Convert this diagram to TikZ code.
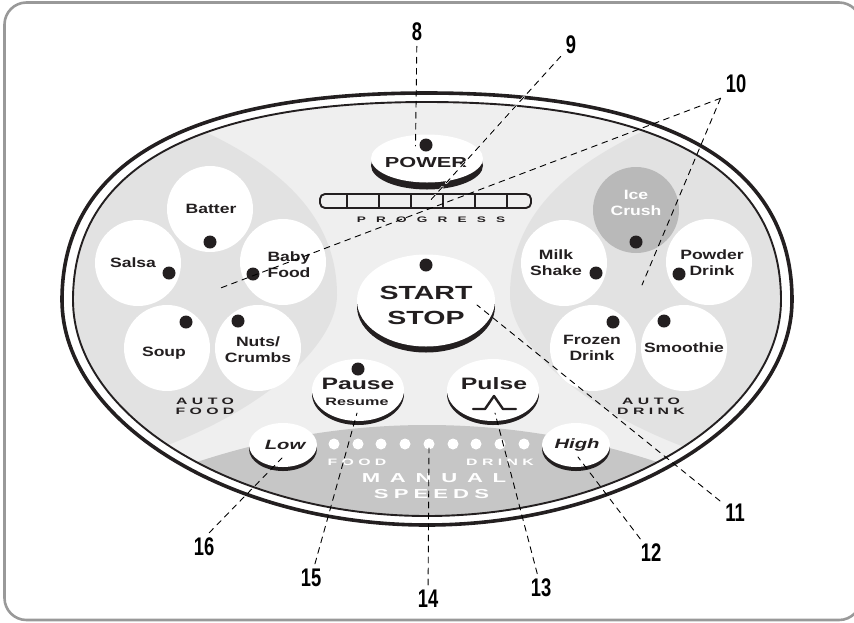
\documentclass[tikz,border=0pt]{standalone}
\usepackage{fontspec}
\usepackage{tikz}
\usetikzlibrary{positioning}
\newfontfamily\numfont[FakeStretch=0.72,BoldFont={Liberation Sans Bold}]{Liberation Sans}
\newfontfamily\padfont[FakeStretch=1.3,BoldFont={Liberation Sans Bold}]{Liberation Sans}
\newfontfamily\widefont[FakeStretch=1.5,BoldFont={Liberation Sans Bold}]{Liberation Sans}
\newfontfamily\spacedfont[FakeStretch=1.7,LetterSpace=47,BoldFont={Liberation Sans Bold}]{Liberation Sans}
\definecolor{panelgray}{HTML}{EFEFEF}
\definecolor{lensgray}{HTML}{E2E2E2}
\definecolor{speedgray}{HTML}{C6C6C6}
\definecolor{icegray}{HTML}{B9B9B9}
\definecolor{inkblack}{HTML}{231F20}
% #1 half width, #2 height above, #3 height below
\newcommand{\shellpath}[3]{
  ({427-#1},300) .. controls ({427-#1},{300-.66*#2}) and ({427-.66*#1},{300-#2}) .. (427,{300-#2})
  .. controls ({427+.66*#1},{300-#2}) and ({427+#1},{300-.66*#2}) .. ({427+#1},300)
  .. controls ({427+#1},{300+.54*#3}) and ({427+.54*#1},{300+#3}) .. (427,{300+#3})
  .. controls ({427-.54*#1},{300+#3}) and ({427-#1},{300+.54*#3}) .. ({427-#1},300) -- cycle
}
\tikzset{
  padbtn/.style={circle,fill=white,minimum size=86pt,inner sep=0pt},
  padtxt/.style={font=\padfont\bfseries\fontsize{13.5}{16}\selectfont,text=inkblack,align=center,inner sep=0pt},
  capstxt/.style={font=\spacedfont\bfseries\fontsize{9.3}{10}\selectfont,text=inkblack,align=center,inner sep=0pt},
  speedtxt/.style={font=\spacedfont\bfseries\fontsize{9.3}{10}\selectfont,text=white,inner sep=0pt},
  btntxt/.style={font=\widefont\bfseries\fontsize{#1}{#1}\selectfont,text=inkblack,align=center,inner sep=0pt},
  lowtxt/.style={font=\widefont\bfseries\itshape\fontsize{13.5}{15}\selectfont,text=inkblack,inner sep=0pt},
  leader/.style={draw=black,line width=0.9pt,dash pattern=on 6pt off 5pt},
  halo/.style={preaction={draw=white,line width=2.2pt,dash pattern=on 6pt off 5pt}},
  numlabel/.style={font=\numfont\bfseries\fontsize{25.5}{26}\selectfont,text=black,inner sep=5pt},
  ledspot/.style={circle,fill=inkblack,minimum size=13pt,inner sep=0pt},
  speedspot/.style={circle,fill=white,minimum size=11pt,inner sep=0pt}
}
\begin{document}
\begin{tikzpicture}[x=1pt,y=-1pt, line cap=round, line join=round]
\useasboundingbox (0,0) rectangle (854,622);
% frame
\draw[gray!80,line width=2.6pt,rounded corners=22pt] (4.5,2.5) rectangle (861,620);

% panel
\begin{scope}
  \clip \shellpath{354}{198}{216};
  \fill[panelgray] (0,0) rectangle (854,622);
  \fill[lensgray] (337,295) .. controls (337,210) and (270,160) .. (190,125) -- (0,125) -- (0,448) -- (160,448) .. controls (275,405) and (337,340) .. (337,295) -- cycle;
  \fill[lensgray] (510,295) .. controls (510,210) and (577,160) .. (657,125) -- (854,125) -- (854,448) -- (687,448) .. controls (572,405) and (510,340) .. (510,295) -- cycle;
  \fill[speedgray] (427,1154) circle (729);
\end{scope}
\draw[inkblack,line width=3.6pt] \shellpath{365}{207}{225};
\draw[inkblack,line width=1.9pt] \shellpath{354}{198}{216};

% food pads
\node[padbtn] (batter) at (210,209) {};
\node[padbtn] (salsa) at (138,263) {};
\node[padbtn] (babyfood) at (283,262) {};
\node[padbtn] (soup) at (167,348) {};
\node[padbtn] (nuts) at (258,348) {};
% drink pads
\node[padbtn,fill=icegray] (ice) at (636,210) {};
\node[padbtn] (milk) at (564,263) {};
\node[padbtn] (powder) at (709,262) {};
\node[padbtn] (frozen) at (593,348) {};
\node[padbtn] (smoothie) at (684,348) {};

\node[padtxt] at (211,209) {Batter};
\node[padtxt] at (133,263) {Salsa};
\node[padtxt] at (289,265) {Baby\\Food};
\node[padtxt] at (164,353) {Soup};
\node[padtxt] at (258,350) {Nuts/\\Crumbs};
\node[padtxt,text=white] at (636,203) {Ice\\Crush};
\node[padtxt] at (556,263) {Milk\\Shake};
\node[padtxt] at (712,263) {Powder\\Drink};
\node[padtxt] at (592,348) {Frozen\\Drink};
\node[padtxt] at (684,348) {Smoothie};
\node[capstxt] at (205,406) {AUTO\\FOOD};
\node[capstxt] at (651,406) {AUTO\\DRINK};

% raised buttons
\foreach \name/\x/\y/\rx/\ry/\drop in {power/427/158.5/56/24/7,start/426/300.5/69/46/6,pause/358/390/46/31/4,pulse/493/390/46/31/4,low/283/445/34/22/4,high/576/445/34/22/4} {
  \fill[inkblack] (\x,\y+\drop) ellipse [x radius=\rx,y radius=\ry];
  \fill[white] (\x,\y) ellipse [x radius=\rx,y radius=\ry];
}
\node[btntxt=14.5] at (426,163) {POWER};
\node[btntxt=19] at (426,305.5) {START\\[6pt]STOP};
\node[btntxt=16.5] at (358,384) {Pause};
\node[btntxt=10.8] at (357,402) {Resume};
\node[btntxt=16.5] at (494,384) {Pulse};
\node[lowtxt] at (285,445) {Low};
\node[lowtxt] at (577,445) {High};
\draw[inkblack,line width=2.4pt] (473,409) -- (485,409) -- (494,396) -- (503,409) -- (516,409);

% progress bar
\draw[inkblack,line width=1.9pt,rounded corners=5pt] (320,194) rectangle (531,208);
\foreach \x in {347,379,411,443,475,507} {
  \draw[inkblack,line width=1.9pt] (\x,194) -- (\x,208);
}
\node[capstxt,font=\spacedfont\bfseries\fontsize{8}{9}\selectfont] at (431,220) {\addfontfeature{LetterSpace=127}PROGRESS};

% indicator spots
\foreach \x/\y in {426/145,426/265,358/369,210/242,169/273,253/274,186/322,238/321,636/242,596/273,679/274,613/322,664/321} {
  \node[ledspot] at (\x,\y) {};
}
\foreach \x in {334,358,381,405,429,453,476,500,524} {
  \node[speedspot] at (\x,444) {};
}
\node[speedtxt] at (357,462) {FOOD};
\node[speedtxt] at (500,462) {DRINK};
\node[speedtxt,font=\spacedfont\bfseries\fontsize{13}{14}\selectfont] at (434,478) {\addfontfeature{LetterSpace=75}MANUAL};
\node[speedtxt,font=\spacedfont\bfseries\fontsize{13}{14}\selectfont] at (431.5,494) {\addfontfeature{LetterSpace=39}SPEEDS};

% callout numbers
\node[numlabel] (n8) at (417,32) {8};
\node[numlabel] (n9) at (571,45) {9};
\node[numlabel] (n10) at (736,84) {10};
\node[numlabel] (n11) at (735,513) {11};
\node[numlabel] (n12) at (651,553) {12};
\node[numlabel] (n13) at (541,588) {13};
\node[numlabel] (n14) at (428,599) {14};
\node[numlabel] (n15) at (311,578) {15};
\node[numlabel] (n16) at (204,547) {16};

\coordinate (t8) at (415.5,146);
\coordinate (t9) at (428,203);
\coordinate (t10a) at (218,289);
\coordinate (t10b) at (642,285);
\coordinate (t11) at (477,305);
\coordinate (t12) at (578,457);
\coordinate (t13) at (495,413);
\coordinate (t14) at (429,448);
\coordinate (t15) at (357,413);
\coordinate (t16) at (282,458);

% leaders
\draw[leader] (n8) -- (t8);
\draw[leader,halo] (n9) -- (t9);
\draw[leader] (n10.south west) -- (t10a);
\draw[leader] (n10.south west) -- (t10b);
\draw[leader] (n11) -- (t11);
\draw[leader] (n12) -- (t12);
\draw[leader] (n13) -- (t13);
\draw[leader] (n14) -- (t14);
\draw[leader] (n15) -- (t15);
\draw[leader] (n16.70) -- (t16);
\end{tikzpicture}
\end{document}
